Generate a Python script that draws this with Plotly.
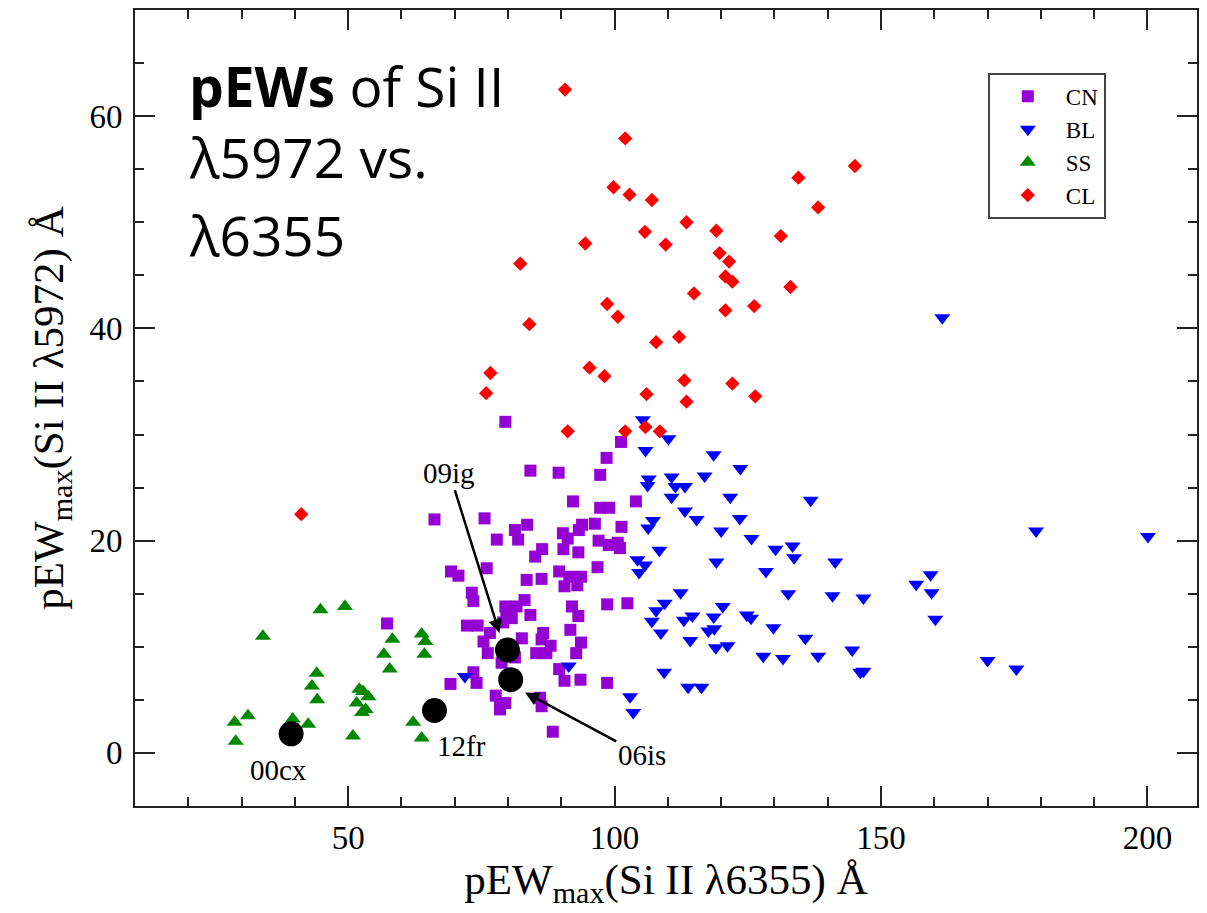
import plotly.graph_objects as go

# ---- data ----
CN_x = [79.5, 101.2, 98.5, 84.2, 89.5, 97.3, 92.2, 97.3, 99.0, 104.0, 66.2, 75.6, 83.6, 81.3, 81.9,
        77.9, 93.9, 93.3, 96.3, 101.3, 90.3, 91.2, 97.0, 98.9, 100.6, 101.0, 86.4, 85.1, 90.4, 93.2,
        76.0, 69.3, 70.7, 96.8, 89.6, 83.5, 86.3, 91.5, 93.7, 93.0, 90.6, 73.2, 73.5, 83.1, 79.5,
        81.6, 84.2, 92.0, 93.2, 98.6, 102.4, 72.3, 74.3, 76.6, 75.4, 79.7, 80.7, 79.1, 82.6, 86.6,
        86.3, 88.0, 85.3, 87.2, 91.7, 93.7, 92.8, 76.2, 78.8, 81.3, 89.6, 90.6, 93.6, 98.6, 73.5,
        74.1, 69.2, 77.7, 78.5, 79.5, 78.5, 86.0, 86.3, 88.4, 57.3]
CN_y = [31.2, 29.3, 27.8, 26.6, 26.4, 26.2, 23.7, 23.1, 23.1, 23.7, 22.0, 22.1, 21.5, 21.0, 20.1,
        20.1, 21.5, 21.0, 21.6, 21.3, 20.7, 20.2, 20.0, 19.6, 19.8, 19.3, 19.2, 18.5, 19.2, 18.9,
        17.4, 17.1, 16.7, 17.5, 17.1, 16.3, 16.4, 16.6, 16.6, 15.8, 15.7, 15.1, 14.3, 14.4, 13.8,
        13.8, 13.0, 13.8, 12.9, 14.0, 14.1, 12.0, 12.0, 11.3, 10.5, 13.0, 12.7, 12.3, 10.8, 11.3,
        10.7, 10.1, 9.4, 9.4, 11.6, 10.4, 9.4, 9.4, 8.5, 9.0, 7.9, 6.8, 6.9, 6.6, 7.6,
        6.6, 6.5, 5.4, 4.7, 4.7, 4.1, 5.2, 4.4, 2.0, 12.2]

BL_x = [105.3, 110.1, 105.8, 118.6, 123.6, 116.9, 106.4, 106.2, 110.7, 111.4, 113.2, 110.7, 121.7,
        136.8, 113.2, 115.4, 123.5, 107.2, 106.3, 120.0, 125.7, 108.4, 130.2, 133.4, 133.7, 104.3,
        105.7, 104.6, 119.1, 128.4, 141.4, 156.6, 112.4, 109.4, 107.8, 107.0, 132.6, 140.9, 146.7,
        120.3, 114.6, 113.0, 118.6, 124.8, 125.6, 117.6, 118.7, 108.7, 129.8, 114.2, 135.8, 119.0,
        121.2, 127.9, 131.6, 138.2, 144.6, 146.7, 146.1, 109.3, 113.8, 116.3, 102.9, 103.5, 71.9,
        91.4, 161.5, 179.1, 200.1, 159.3, 159.5, 160.2, 170.0, 175.4]
BL_y = [31.4, 29.6, 28.5, 28.1, 26.8, 26.1, 25.8, 25.2, 26.0, 25.1, 25.1, 24.1, 24.1,
        23.8, 22.8, 22.0, 22.1, 21.9, 21.2, 20.9, 20.2, 19.1, 19.2, 19.5, 18.4, 18.2,
        17.7, 17.0, 18.0, 17.1, 18.0, 15.9, 15.1, 14.1, 13.4, 12.4, 15.0, 14.8, 14.6,
        13.8, 12.9, 12.5, 12.8, 13.0, 12.7, 11.5, 11.7, 11.3, 11.8, 10.6, 10.8, 9.9,
        10.1, 9.1, 8.9, 9.1, 9.7, 7.7, 7.6, 7.6, 6.2, 6.2, 5.3, 3.8, 7.2,
        8.2, 41.0, 20.9, 20.4, 16.8, 15.1, 12.6, 8.7, 7.9]

SS_x = [34.0, 44.8, 49.4, 58.3, 56.7, 57.8, 63.8, 64.5, 64.3, 44.1, 43.2, 44.2, 52.1, 52.8, 53.8,
        51.6, 53.3, 52.6, 31.2, 28.7, 28.9, 39.6, 42.5, 50.9, 62.2, 63.8]
SS_y = [11.0, 13.5, 13.8, 10.7, 9.3, 7.9, 11.2, 10.5, 9.3, 7.5, 6.3, 5.0, 6.0, 5.8, 5.3,
        4.7, 4.1, 3.8, 3.5, 2.9, 1.1, 3.2, 2.7, 1.6, 2.9, 1.4]

CL_x = [90.7, 102.0, 145.1, 134.5, 99.8, 102.8, 107.0, 138.2, 113.5, 119.1, 105.7, 131.2, 94.5, 109.6,
        82.3, 119.7, 121.5, 120.8, 122.1, 133.0, 114.9, 98.6, 100.6, 120.8, 126.2, 84.0, 107.8, 112.1,
        76.7, 75.9, 95.3, 98.1, 113.1, 122.1, 106.0, 113.5, 126.4, 91.2, 102.0, 105.8, 108.5, 41.2]
CL_y = [62.5, 57.9, 55.3, 54.2, 53.3, 52.6, 52.1, 51.4, 50.0, 49.2, 49.1, 48.7, 48.0, 47.9,
        46.1, 47.1, 46.3, 44.9, 44.4, 43.9, 43.3, 42.3, 41.1, 41.7, 42.1, 40.4, 38.7, 39.2,
        35.8, 33.9, 36.3, 35.5, 35.1, 34.8, 33.8, 33.1, 33.6, 30.3, 30.3, 30.7, 30.3, 22.5]

SN_names = ["00cx", "12fr", "09ig", "06is"]
SN_x = [39.3, 66.2, 79.9, 80.5]
SN_y = [1.8, 4.0, 9.7, 6.9]
# label centres
LBL_x = [37.0, 71.2, 69.0, 105.1]
LBL_y = [-1.6, 0.7, 26.4, -0.2]
# which labels carry an arrow, and the arrow tip (data coords)
ARROW_TIP = {"09ig": (78.4, 11.3), "06is": (83.2, 5.7)}

SERIF = "Liberation Serif, Times New Roman, serif"

fig = go.Figure()
fig.add_trace(go.Scatter(x=CN_x, y=CN_y, mode="markers", name="CN",
                         marker=dict(symbol="square", size=12, color="#9400D3", line=dict(width=0))))
fig.add_trace(go.Scatter(x=BL_x, y=BL_y, mode="markers", name="BL",
                         marker=dict(symbol="triangle-down", size=14, color="#0000FF", line=dict(width=0))))
fig.add_trace(go.Scatter(x=SS_x, y=SS_y, mode="markers", name="SS",
                         marker=dict(symbol="triangle-up", size=14, color="#008800", line=dict(width=0))))
fig.add_trace(go.Scatter(x=CL_x, y=CL_y, mode="markers", name="CL",
                         marker=dict(symbol="diamond", size=11, color="#FF0000", line=dict(width=0))))
fig.add_trace(go.Scatter(x=SN_x, y=SN_y, mode="markers", showlegend=False,
                         marker=dict(symbol="circle", size=25, color="black", line=dict(width=0))))

for n, lx, ly in zip(SN_names, LBL_x, LBL_y):
    if n in ARROW_TIP:
        hx, hy = ARROW_TIP[n]
        fig.add_annotation(x=hx, y=hy, ax=lx, ay=ly, xref="x", yref="y", axref="x", ayref="y",
                           text=n, showarrow=True, arrowhead=2, arrowsize=1.1, arrowwidth=2.5,
                           arrowcolor="black", standoff=0,
                           font=dict(family=SERIF, size=29, color="black"))
    else:
        fig.add_annotation(x=lx, y=ly, xref="x", yref="y", text=n, showarrow=False,
                           font=dict(family=SERIF, size=29, color="black"))

# title block
title_lines = ["<b>pEWs</b> of Si II", "λ5972 vs.", "λ6355"]
title_y = [0.905, 0.816, 0.718]
for t, ty in zip(title_lines, title_y):
    fig.add_annotation(x=0.0489, y=ty, xref="paper", yref="paper", text=t, showarrow=False,
                       xanchor="left", yanchor="middle",
                       font=dict(family="Open Sans, sans-serif", size=55, color="black"))

axis_common = dict(showline=True, linecolor="#222", linewidth=2, mirror="ticks", ticks="inside",
                   ticklen=20, tickwidth=1.5, tickcolor="#222", showgrid=False, zeroline=False,
                   tickfont=dict(family="Liberation Serif", size=33, color="black"))

fig.update_xaxes(range=[10, 209.3], tick0=0, dtick=50,
                 minor=dict(tick0=0, dtick=10, ticks="inside", ticklen=9, tickwidth=1.5, tickcolor="#222"),
                 ticklabelstandoff=1,
                 title=dict(text="pEW<sub>max</sub>(Si II λ6355) Å", standoff=6,
                            font=dict(family=SERIF, size=43, color="black")),
                 **axis_common)
fig.update_yaxes(range=[-5, 70], tick0=0, dtick=20,
                 minor=dict(tick0=0, dtick=5, ticks="inside", ticklen=9, tickwidth=1.5, tickcolor="#222"),
                 ticklabelstandoff=4,
                 title=dict(text="pEW<sub>max</sub>(Si II λ5972) Å", standoff=12,
                            font=dict(family=SERIF, size=43, color="black")),
                 **axis_common)

fig.update_layout(
    width=1207, height=913,
    margin=dict(l=135, r=8, t=9, b=107),
    paper_bgcolor="white", plot_bgcolor="white",
    showlegend=True,
    legend=dict(x=0.803, y=0.921, xanchor="left", yanchor="top",
                bordercolor="#444", borderwidth=2, bgcolor="white",
                itemwidth=66, font=dict(family=SERIF, size=23, color="black")),
)

fig.write_html("out.html")
